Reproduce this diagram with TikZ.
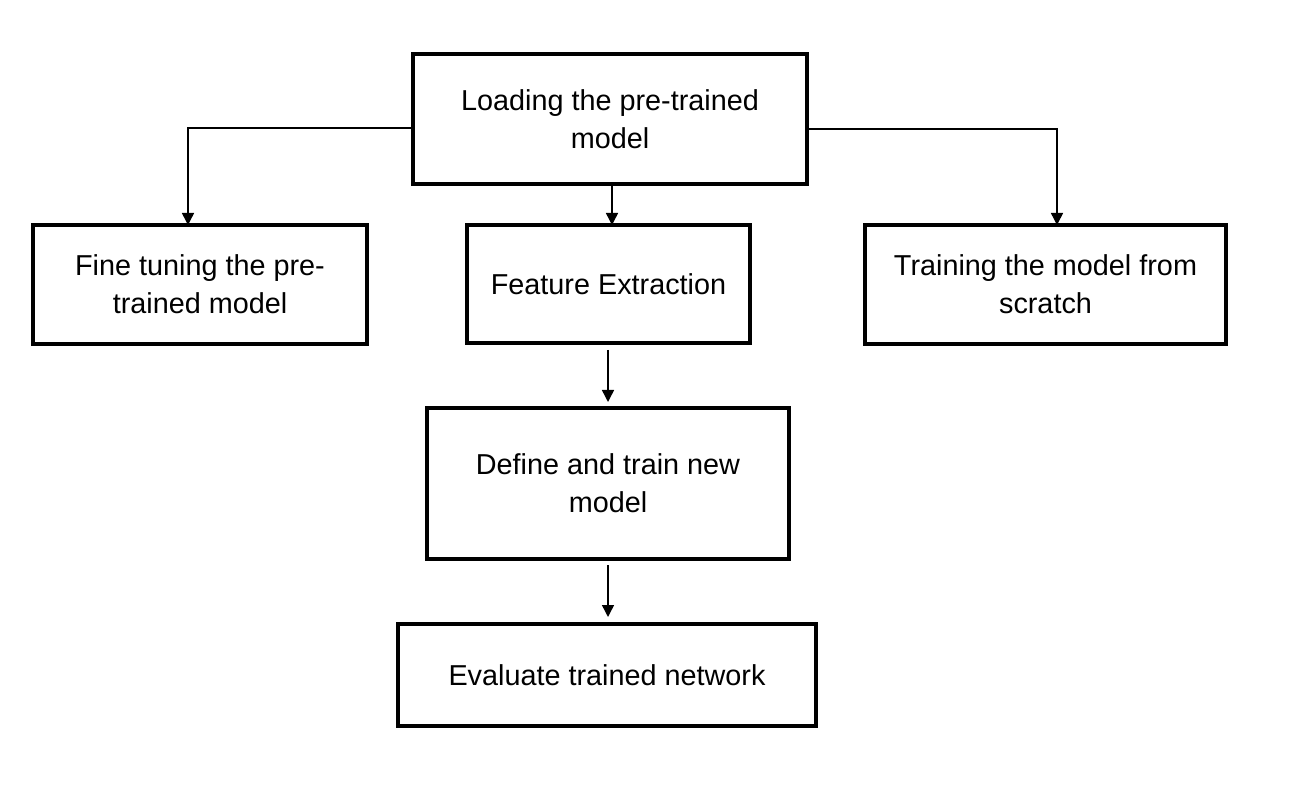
\documentclass[tikz,border=0pt]{standalone}
\usepackage{fontspec}
\setmainfont{Liberation Sans}
\usepackage{tikz}
\usetikzlibrary{arrows.meta,positioning,calc}

\begin{document}
\begin{tikzpicture}[
x=0.5pt, y=-0.5pt,
every node/.style={font=\fontsize{14.4}{19}\selectfont},
stage/.style={draw, line width=2pt, align=center, inner sep=4pt, outer sep=0pt},
arr/.style={-{Triangle[width=6pt,length=6pt]}, line width=0.75pt},
garr/.style={-{Triangle[width=6pt,length=6pt]}, line width=0.75pt, shorten <=3.5pt, shorten >=3pt}
]
\useasboundingbox (0,0) rectangle (1310,806);

% Top stage
\node[stage, minimum width=197pt, minimum height=65pt] (L0) at (610,119) {Loading the pre-trained\\model};

% Three options
\node[stage, minimum width=167pt, minimum height=59.5pt] (F1) at (200,284.5) {Fine tuning the pre-\\trained model};
\node[stage, minimum width=141.5pt, minimum height=59pt] (X1) at (608.5,284) {Feature Extraction};
\node[stage, minimum width=180.5pt, minimum height=59.5pt] (T1) at (1045.5,284.5) {Training the model from\\scratch};
\draw[arr] ([yshift=-4.5pt]L0.west) -| ([xshift=-6pt]F1.north);
\draw[arr] ([yshift=-5pt]L0.east) -| ([xshift=5.75pt]T1.north);
\draw[arr] ([xshift=1pt]L0.south) -- ([xshift=1pt]L0.south |- X1.north);

% Feature extraction branch
\node[stage, minimum width=181pt, minimum height=75.5pt] (D2) at (608,483.5) {Define and train new\\model};
\node[stage, minimum width=209pt, minimum height=51pt] (E3) at (607,675) {Evaluate trained network};
\draw[garr] (X1.south -| D2.north) -- (D2.north);
\draw[garr, shorten <=3pt, shorten >=3.5pt] (D2.south) -- (D2.south |- E3.north);
\end{tikzpicture}
\end{document}
